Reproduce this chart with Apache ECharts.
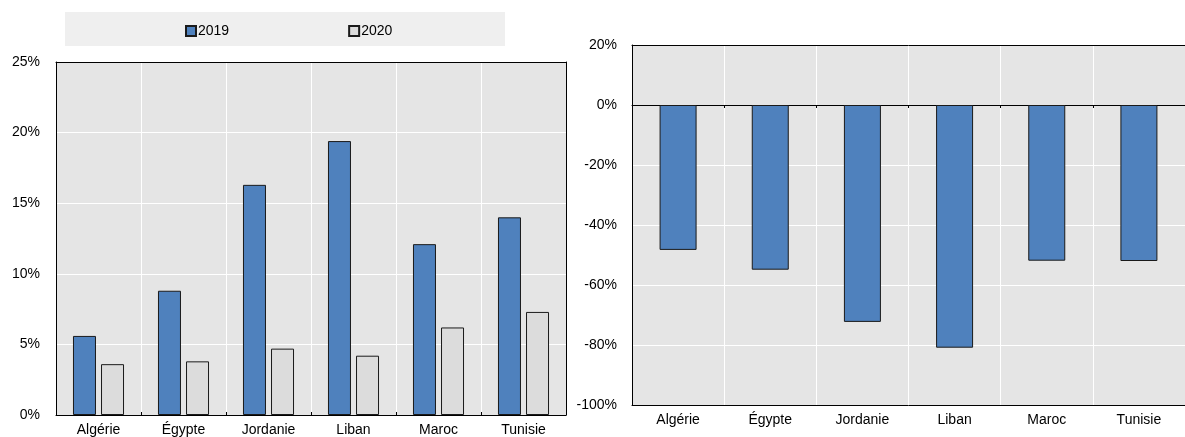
<!DOCTYPE html>
<html><head><meta charset="utf-8">
<script src="https://cdn.jsdelivr.net/npm/echarts@6/dist/echarts.min.js"></script>
<style>html,body{margin:0;padding:0;background:#fff}#c{width:1185px;height:437px}</style>
</head><body><div id="c"></div>
<script>
const categories = ['Algérie','Égypte','Jordanie','Liban','Maroc','Tunisie'];
const share2019 = [5.6, 8.8, 16.3, 19.4, 12.1, 14.0];
const share2020 = [3.6, 3.8, 4.7, 4.2, 6.2, 7.3];
const change = [-48.3, -54.9, -72.3, -80.9, -51.9, -52.0];
const seriesNames = ['2019', '2020'];

const FONT = 'Arial, "Liberation Sans", sans-serif';
const BLUE = '#4f81bd';
const GREY = '#dcdcdc';
const lab = {color:'#000', fontFamily: FONT, fontSize: 14};
const blackLine = {lineStyle:{color:'#000', width:1}};
const borderX = (g) => ({type:'category', gridIndex:g, data:categories, position:'top',
  axisLine:{onZero:false, ...blackLine}, axisTick:{show:false}, axisLabel:{show:false}, splitLine:{show:false}});

const chart = echarts.init(document.getElementById('c'), null, {renderer:'canvas'});
chart.setOption({
  animation: false,
  graphic: [{type:'rect', left:65, top:12, shape:{width:440, height:34}, style:{fill:'#efefef'}, z:-1}],
  legend: {
    data: seriesNames, left: 185, top: 24, padding: 0, itemWidth: 10, itemHeight: 10, itemGap: 119,
    icon: 'rect', textStyle: {color:'#000', fontFamily: FONT, fontSize: 14, padding:[0,0,0,-3]}
  },
  grid: [
    {left:56, right:619, top:62, bottom:22, show:true, backgroundColor:'#e5e5e5', borderWidth:0},
    {left:632, right:0, top:45, bottom:32, show:true, backgroundColor:'#e5e5e5', borderWidth:0}
  ],
  xAxis: [
    {type:'category', gridIndex:0, data:categories, boundaryGap:true, position:'bottom',
     axisLine:{onZero:false, ...blackLine}, axisTick:{show:true, inside:true, length:3, lineStyle:{color:'#000'}},
     axisLabel:{...lab, margin:8, interval:0}, splitLine:{show:true, lineStyle:{color:'#fff', width:1}}},
    borderX(0),
    {type:'category', gridIndex:1, data:categories, boundaryGap:true, position:'bottom',
     axisLine:{onZero:false, ...blackLine}, axisTick:{show:false},
     axisLabel:{...lab, margin:8, interval:0}, splitLine:{show:true, lineStyle:{color:'#fff', width:1}}},
    borderX(1),
    {type:'category', gridIndex:1, data:categories, boundaryGap:true, position:'bottom',
     axisLine:{onZero:true, ...blackLine}, axisTick:{show:true, inside:false, length:3, lineStyle:{color:'#000'}},
     axisLabel:{show:false}, splitLine:{show:false}}
  ],
  yAxis: [
    {type:'value', gridIndex:0, min:0, max:25, interval:5, position:'left',
     axisLine:{show:true, onZero:false, ...blackLine}, axisTick:{show:false},
     axisLabel:{...lab, margin:16, formatter:'{value}%'}, splitLine:{lineStyle:{color:'#fff', width:1}}},
    {type:'value', gridIndex:0, min:0, max:25, interval:5, position:'right',
     axisLine:{show:true, onZero:false, ...blackLine}, axisTick:{show:false},
     axisLabel:{show:false}, splitLine:{show:false}},
    {type:'value', gridIndex:1, min:-100, max:20, interval:20, position:'left',
     axisLine:{show:true, onZero:false, ...blackLine}, axisTick:{show:false},
     axisLabel:{...lab, margin:15, formatter:'{value}%'}, splitLine:{lineStyle:{color:'#fff', width:1}}}
  ],
  series: [
    {name:seriesNames[0], type:'bar', xAxisIndex:0, yAxisIndex:0, data:share2019, barWidth:23, barGap:'22%',
     itemStyle:{color:BLUE, borderColor:'#1a1a1a', borderWidth:1}},
    {name:seriesNames[1], type:'bar', xAxisIndex:0, yAxisIndex:0, data:share2020, barWidth:23, barGap:'22%',
     itemStyle:{color:GREY, borderColor:'#1a1a1a', borderWidth:1}},
    {name:'change', type:'bar', xAxisIndex:2, yAxisIndex:2, data:change, barWidth:37,
     itemStyle:{color:BLUE, borderColor:'#1a1a1a', borderWidth:1}}
  ]
});
</script></body></html>
